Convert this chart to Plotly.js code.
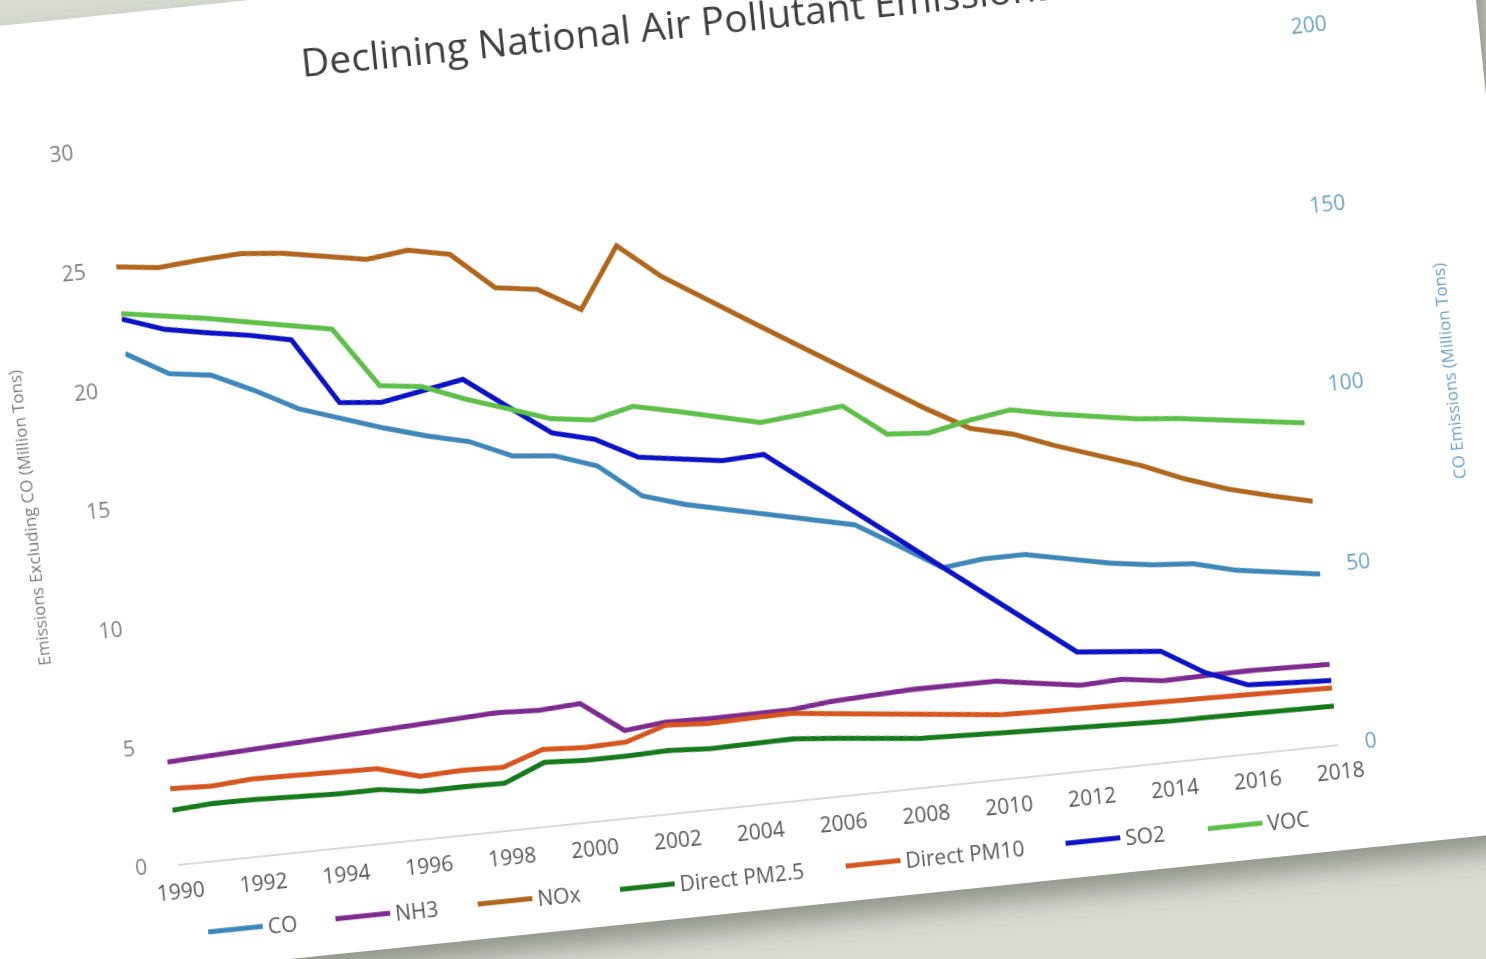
<!DOCTYPE html>
<html>
<head>
<meta charset="utf-8">
<script src="https://cdn.plot.ly/plotly-3.0.1.min.js"></script>
<style>
  html, body { margin: 0; padding: 0; width: 1486px; height: 959px; overflow: hidden; background: #d8dbd1; }
  /* the chart sits on a white card, slightly tilted on the page */
  #card {
    position: absolute;
    left: -82px; top: 11.5px;
    width: 1640px; height: 958px;
    background: #ffffff;
    transform-origin: 260px 852px;
    transform: rotate(-5.9deg);
    box-shadow: 10px 16px 24px rgba(60, 62, 50, 0.45);
    filter: blur(0.6px);
  }
  #chart { width: 1640px; height: 958px; }
</style>
</head>
<body>
<div id="card"><div id="chart"></div></div>
<script>
// National emissions, 1990-2018 (million tons)
const years = [1990,1991,1992,1993,1994,1995,1996,1997,1998,1999,2000,2001,2002,2003,2004,
               2005,2006,2007,2008,2009,2010,2011,2012,2013,2014,2015,2016,2017,2018];

const co   = [142.9,136.1,134.5,129.0,122.7,118.9,114.9,111.5,108.7,103.5,102.3,98.3,88.7,85.1,82.5,
              79.9,77.3,74.6,67.5,60.2,61.5,61.5,59.1,56.7,55.0,54.1,51.1,49.3,47.6];
const nh3  = [4.28,4.36,4.44,4.52,4.60,4.68,4.76,4.84,4.92,4.84,4.94,3.63,3.80,3.76,3.76,
              3.77,3.95,4.02,4.11,4.09,4.08,3.81,3.55,3.62,3.38,3.42,3.44,3.40,3.35];
const nox  = [25.08,24.87,25.01,25.10,24.93,24.63,24.32,24.52,24.17,22.59,22.34,21.31,23.81,22.34,21.19,
              20.10,19.00,17.90,16.80,15.70,14.70,14.28,13.61,12.99,12.42,11.68,11.08,10.62,10.20];
const pm25 = [2.26,2.37,2.35,2.28,2.23,2.23,1.97,1.98,1.95,2.65,2.56,2.56,2.61,2.51,2.54,
              2.56,2.40,2.23,2.04,1.97,1.91,1.84,1.76,1.71,1.68,1.67,1.65,1.63,1.60];
const pm10 = [3.17,3.09,3.22,3.18,3.13,3.10,2.60,2.67,2.62,3.20,3.09,3.14,3.68,3.56,3.60,
              3.63,3.44,3.25,3.05,2.85,2.67,2.62,2.57,2.53,2.51,2.48,2.45,2.40,2.36];
const so2  = [22.89,22.28,21.96,21.67,21.30,18.48,18.31,18.60,18.92,17.60,16.31,15.86,14.93,14.68,14.43,
              14.51,13.14,11.78,10.41,9.05,7.68,6.32,4.95,4.78,4.62,3.55,2.85,2.76,2.67];
const voc  = [23.12,22.85,22.56,22.23,21.91,21.57,19.01,18.79,18.10,17.50,16.91,16.67,17.07,16.68,16.27,
              15.85,16.00,16.18,14.82,14.69,15.04,15.30,14.95,14.66,14.38,14.22,13.97,13.72,13.49];

const xTicks = [1990,1992,1994,1996,1998,2000,2002,2004,2006,2008,2010,2012,2014,2016,2018];
const leftTicks = [0,5,10,15,20,25,30];
const rightTicks = [0,50,100,150,200];

const FONT = '"Open Sans", "Noto Sans", sans-serif';
const LW = 5;
const PLOT_W = 1166;

// one legend box per series so the entries can be spread along the bottom
const legendStarts = [23, 151, 294, 437, 664, 885, 1028];   // px from the plot's left edge

function series(name, y, color, axis, idx) {
  return { type: 'scatter', mode: 'lines', name: name, x: years, y: y, yaxis: axis,
           legend: idx === 0 ? 'legend' : 'legend' + (idx + 1),
           line: { color: color, width: LW }, hoverinfo: 'skip' };
}

const data = [
  series('CO', co, '#3f87b9', 'y', 0),
  series('NH3', nh3, '#7d2b8f', 'y2', 1),
  series('NOx', nox, '#b0661c', 'y2', 2),
  series('Direct PM2.5', pm25, '#16791c', 'y2', 3),
  series('Direct PM10', pm10, '#d6561f', 'y2', 4),
  series('SO2', so2, '#0c12c6', 'y2', 5),
  series('VOC', voc, '#5fbf4b', 'y2', 6)
];

const layout = {
  width: 1640, height: 958,
  margin: { l: 260, r: 214, t: 134, b: 106 },
  paper_bgcolor: '#ffffff', plot_bgcolor: '#ffffff',
  font: { family: FONT },
  showlegend: true,
  title: {
    text: 'Declining National Air Pollutant Emissions',
    font: { family: FONT, size: 39, color: '#3f3f3f' },
    x: 0.5, xref: 'paper', xanchor: 'center',
    y: 0.914, yref: 'container', yanchor: 'bottom'
  },
  xaxis: {
    range: [1990, 2018], tickvals: xTicks, ticktext: xTicks.map(String),
    showgrid: false, zeroline: false, showline: true, linecolor: '#dadada', linewidth: 2,
    ticks: '', ticklabelstandoff: 8,
    tickfont: { family: FONT, size: 21, color: '#595959' }
  },
  yaxis: {
    range: [0, 200], tickvals: rightTicks, side: 'right',
    showgrid: false, zeroline: false, showline: false, ticks: '', ticklabelstandoff: 26,
    tickfont: { family: FONT, size: 21, color: '#69a3cc' }
  },
  yaxis2: {
    range: [0, 30], tickvals: leftTicks, side: 'left', overlaying: 'y',
    showgrid: false, zeroline: false, showline: false, ticks: '', ticklabelstandoff: 30,
    tickfont: { family: FONT, size: 21, color: '#808080' }
  },
  annotations: [
    { text: 'Emissions Excluding CO (Million Tons)', xref: 'paper', yref: 'paper',
      x: 0, y: 0.5, xshift: -113, textangle: -90, showarrow: false,
      xanchor: 'center', yanchor: 'middle',
      font: { family: FONT, size: 17, color: '#7a7a7a' } },
    { text: 'CO Emissions (Million Tons)', xref: 'paper', yref: 'paper',
      x: 1, y: 0.5, xshift: 148, textangle: -90, showarrow: false,
      xanchor: 'center', yanchor: 'middle',
      font: { family: FONT, size: 17, color: '#6a9cc2' } }
  ]
};

legendStarts.forEach(function (u, i) {
  const key = i === 0 ? 'legend' : 'legend' + (i + 1);
  layout[key] = {
    x: (u - 5) / PLOT_W, xanchor: 'left', y: -0.099, yanchor: 'middle',
    bgcolor: 'rgba(0,0,0,0)', itemwidth: 55,
    font: { family: FONT, size: 21, color: '#595959' }
  };
});

Plotly.newPlot('chart', data, layout, { staticPlot: true, displayModeBar: false });
</script>
</body>
</html>
